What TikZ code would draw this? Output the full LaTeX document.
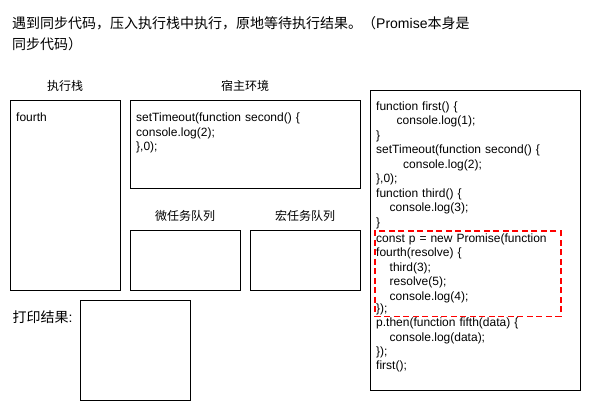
\documentclass[tikz,border=0pt]{standalone}
\usepackage{fontspec}
\setmainfont{Liberation Sans}
\newfontfamily\cjk{Noto Sans CJK SC}
\newfontfamily\lat{Liberation Sans}
\begin{document}
\begin{tikzpicture}[x=1pt,y=-1pt,
  box/.style={draw=black, line width=1pt, anchor=north west, inner sep=0pt},
  lbl/.style={inner sep=0pt, font=\cjk\fontsize{12}{14.4}\selectfont},
  code/.style={inner sep=0pt, anchor=base west, align=left, font=\lat\fontsize{12}{14.44}\selectfont},
  hilite/.style={draw=red, line width=1.9pt, dash pattern=on 6pt off 3.5pt, anchor=north west, inner sep=0pt}]
\useasboundingbox[fill=white] (0,0) rectangle (591,411);

% title
\node[inner sep=0pt, anchor=base west, text width=560pt, align=left,
      font=\fontsize{14}{21}\selectfont] (title) at (12,29)
  {\cjk 遇到同步代码，压入执行栈中执行，原地等待执行结果。（{\lat Promise}本身是\\同步代码）};

% labels
\node[lbl, anchor=base] (lstack) at (65,90.5) {执行栈};
\node[lbl, anchor=base] (lhost) at (245,90.5) {宿主环境};
\node[lbl, anchor=base] (lmicro) at (185,220.5) {微任务队列};
\node[lbl, anchor=base] (lmacro) at (305,220.5) {宏任务队列};
\node[lbl, anchor=base west, font=\cjk\fontsize{14}{16}\selectfont] (lprint) at (12.5,322) {打印结果{\lat :}};

% boxes
\node[box, minimum width=110pt, minimum height=190pt] (stack) at (10,100) {};
\node[box, minimum width=230pt, minimum height=88pt] (host) at (130,100) {};
\node[box, minimum width=110pt, minimum height=60pt] (micro) at (130,230) {};
\node[box, minimum width=110pt, minimum height=60pt] (macro) at (250,230) {};
\node[box, minimum width=110pt, minimum height=100pt] (print) at (80,300) {};
\node[box, minimum width=210pt, minimum height=300pt] (codebox) at (370,90) {};

% contents
\node[code, text width=100pt] (stacktxt) at (16,122) {fourth};
\node[code, text width=220pt] (hosttxt) at (136,122)
  {setTimeout(function second() \{\\console.log(2);\\\},0);};

\node[code, text width=200pt] (codetxt) at (376,110.5)
  {function first() \{\\
   \hspace*{20.5pt}console.log(1);\\
   \}\\
   setTimeout(function second() \{\\
   \hspace*{27pt}console.log(2);\\
   \},0);\\
   function third() \{\\
   \hspace*{13.5pt}console.log(3);\\
   \}\\[2pt]
   const p = new Promise(function\\
   fourth(resolve) \{\\
   \hspace*{13.5pt}third(3);\\
   \hspace*{13.5pt}resolve(5);\\
   \hspace*{13.5pt}console.log(4);\\[-2.5pt]
   \});\\
   p.then(function fifth(data) \{\\
   \hspace*{13.5pt}console.log(data);\\
   \});\\
   first();};

% highlight
\node[hilite, minimum width=186pt, minimum height=85pt] (hl) at (374,230.5) {};
\end{tikzpicture}
\end{document}
